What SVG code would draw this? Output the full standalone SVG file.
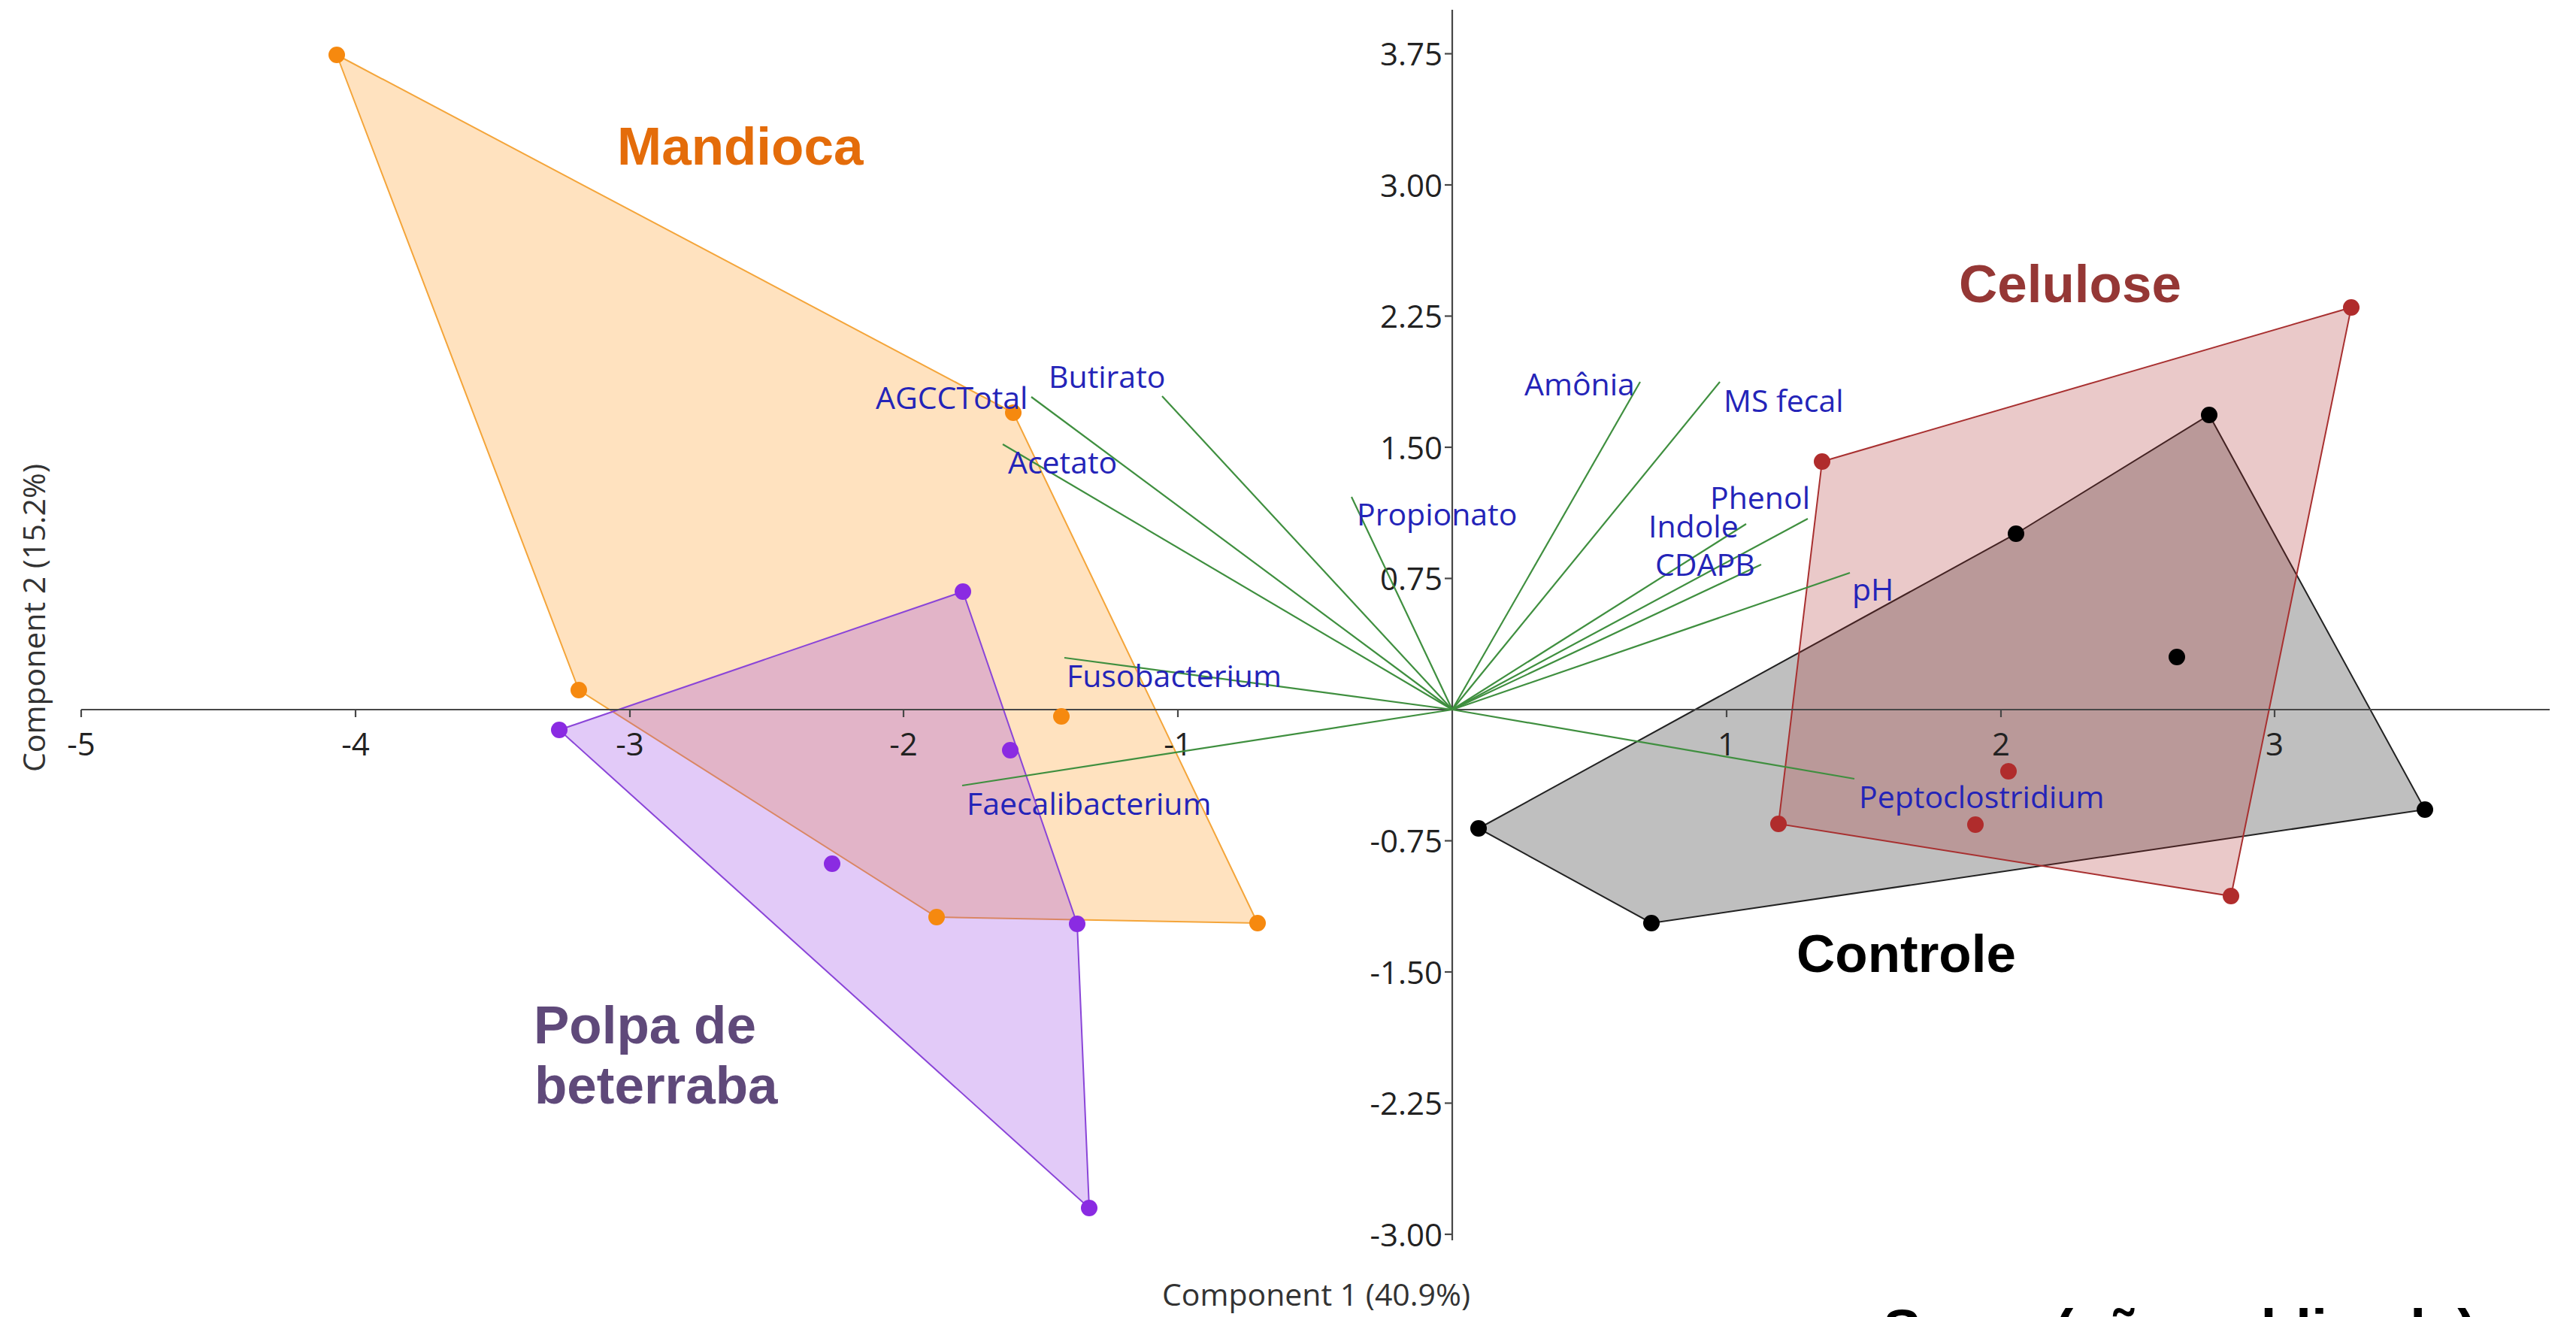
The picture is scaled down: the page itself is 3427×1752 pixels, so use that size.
<svg xmlns="http://www.w3.org/2000/svg" width="3427" height="1752" viewBox="0 0 3427 1752">
<style>
.ax{stroke:#474747;stroke-width:2.2;fill:none}
.tick{font-family:"Open Sans","Noto Sans",sans-serif;font-size:42px;fill:#222}
.title{font-family:"Open Sans","Noto Sans",sans-serif;font-size:41px;fill:#333}
.vec{stroke:#3f8f3f;stroke-width:2.2}
.var{font-family:"Open Sans","Noto Sans",sans-serif;font-size:41px;fill:#2424b8}
.grp{font-family:"Liberation Sans",Arial,sans-serif;font-size:71px;font-weight:bold}
.hull-o{fill:rgba(255,140,0,0.25);stroke:#f4a53a;stroke-width:2}
.hull-p{fill:rgba(138,43,226,0.25);stroke:#8a45d8;stroke-width:2}
.hull-k{fill:rgba(0,0,0,0.25);stroke:#222;stroke-width:2}
.hull-r{fill:rgba(170,40,40,0.25);stroke:#a83030;stroke-width:2}
.po{fill:#f6890f}.pp{fill:#8a2be2}.pk{fill:#000}.pr{fill:#b02c2c}
</style>
<rect width="3427" height="1752" fill="#fff"/>

<g id="hulls">
<polygon id="hull-mandioca" class="hull-o" points="448,73 1348,549 1673,1228 1246,1220 770,918"/>
<polygon id="hull-polpa" class="hull-p" points="744,971 1281,787 1433,1229 1449,1607"/>
<polygon id="hull-controle" class="hull-k" points="1967,1102 2682,710 2939,552 3226,1077 2197,1228"/>
<polygon id="hull-celulose" class="hull-r" points="2424,614 3128,409 2968,1192 2366,1096"/>
</g>

<g id="axes">
<line class="ax" x1="108" y1="944" x2="3392" y2="944"/>
<line class="ax" x1="1932" y1="13" x2="1932" y2="1650"/>
<g class="ax">
<line x1="108" y1="944" x2="108" y2="954"/>
<line x1="473" y1="944" x2="473" y2="954"/>
<line x1="838" y1="944" x2="838" y2="954"/>
<line x1="1202" y1="944" x2="1202" y2="954"/>
<line x1="1567" y1="944" x2="1567" y2="954"/>
<line x1="2297" y1="944" x2="2297" y2="954"/>
<line x1="2662" y1="944" x2="2662" y2="954"/>
<line x1="3026" y1="944" x2="3026" y2="954"/>
<line x1="1922" y1="71.5" x2="1932" y2="71.5"/>
<line x1="1922" y1="246" x2="1932" y2="246"/>
<line x1="1922" y1="420.5" x2="1932" y2="420.5"/>
<line x1="1922" y1="595" x2="1932" y2="595"/>
<line x1="1922" y1="769.5" x2="1932" y2="769.5"/>
<line x1="1922" y1="1118.5" x2="1932" y2="1118.5"/>
<line x1="1922" y1="1293" x2="1932" y2="1293"/>
<line x1="1922" y1="1467.5" x2="1932" y2="1467.5"/>
<line x1="1922" y1="1642" x2="1932" y2="1642"/>
</g>
<g class="tick" text-anchor="middle">
<text x="108" y="1005">-5</text>
<text x="473" y="1005">-4</text>
<text x="838" y="1005">-3</text>
<text x="1202" y="1005">-2</text>
<text x="1567" y="1005">-1</text>
<text x="2297" y="1005">1</text>
<text x="2662" y="1005">2</text>
<text x="3026" y="1005">3</text>
</g>
<g class="tick" text-anchor="end">
<text x="1919" y="87">3.75</text>
<text x="1919" y="262">3.00</text>
<text x="1919" y="436">2.25</text>
<text x="1919" y="611">1.50</text>
<text x="1919" y="785">0.75</text>
<text x="1919" y="1134">-0.75</text>
<text x="1919" y="1309">-1.50</text>
<text x="1919" y="1483">-2.25</text>
<text x="1919" y="1658">-3.00</text>
</g>
<text class="title" x="1751" y="1737" text-anchor="middle">Component 1 (40.9%)</text>
<text class="title" x="60" y="822" text-anchor="middle" transform="rotate(-90 60 822)">Component 2 (15.2%)</text>
</g>

<g id="loadings">
<line class="vec" x1="1932" y1="944" x2="1372" y2="528"/>
<line class="vec" x1="1932" y1="944" x2="1546" y2="527"/>
<line class="vec" x1="1932" y1="944" x2="1334" y2="591"/>
<line class="vec" x1="1932" y1="944" x2="1798" y2="661"/>
<line class="vec" x1="1932" y1="944" x2="1416" y2="875"/>
<line class="vec" x1="1932" y1="944" x2="1280" y2="1045"/>
<line class="vec" x1="1932" y1="944" x2="2182" y2="508"/>
<line class="vec" x1="1932" y1="944" x2="2288" y2="508"/>
<line class="vec" x1="1932" y1="944" x2="2405" y2="690"/>
<line class="vec" x1="1932" y1="944" x2="2323" y2="697"/>
<line class="vec" x1="1932" y1="944" x2="2343" y2="751"/>
<line class="vec" x1="1932" y1="944" x2="2461" y2="762"/>
<line class="vec" x1="1932" y1="944" x2="2467" y2="1036"/>
</g>

<g id="points">
<g id="pts-mandioca" class="po">
<circle cx="448" cy="73" r="11"/><circle cx="1348" cy="549" r="11"/><circle cx="770" cy="918" r="11"/>
<circle cx="1412" cy="953" r="11"/><circle cx="1246" cy="1220" r="11"/><circle cx="1673" cy="1228" r="11"/>
</g>
<g id="pts-polpa" class="pp">
<circle cx="744" cy="971" r="11"/><circle cx="1281" cy="787" r="11"/><circle cx="1344" cy="998" r="11"/>
<circle cx="1107" cy="1149" r="11"/><circle cx="1433" cy="1229" r="11"/><circle cx="1449" cy="1607" r="11"/>
</g>
<g id="pts-controle" class="pk">
<circle cx="2939" cy="552" r="11"/><circle cx="2682" cy="710" r="11"/><circle cx="2896" cy="874" r="11"/>
<circle cx="3226" cy="1077" r="11"/><circle cx="1967" cy="1102" r="11"/><circle cx="2197" cy="1228" r="11"/>
</g>
<g id="pts-celulose" class="pr">
<circle cx="2424" cy="614" r="11"/><circle cx="3128" cy="409" r="11"/><circle cx="2366" cy="1096" r="11"/>
<circle cx="2968" cy="1192" r="11"/><circle cx="2672" cy="1026" r="11"/><circle cx="2628" cy="1097" r="11"/>
</g>
</g>

<g id="variable-labels" class="var">
<text x="1165" y="544">AGCCTotal</text>
<text x="1395" y="516">Butirato</text>
<text x="1341" y="630">Acetato</text>
<text x="1805" y="699">Propionato</text>
<text x="1419" y="914">Fusobacterium</text>
<text x="1286" y="1084">Faecalibacterium</text>
<text x="2028" y="526">Amônia</text>
<text x="2293" y="548">MS fecal</text>
<text x="2275" y="677">Phenol</text>
<text x="2193" y="715">Indole</text>
<text x="2202" y="766">CDAPB</text>
<text x="2464" y="799">pH</text>
<text x="2473" y="1075">Peptoclostridium</text>
</g>

<g id="group-labels" class="grp">
<text id="lbl-mandioca" x="821" y="219" fill="#e46c0a">Mandioca</text>
<text id="lbl-celulose" x="2606" y="402" fill="#953735">Celulose</text>
<text id="lbl-controle" x="2390" y="1293" fill="#000">Controle</text>
<text id="lbl-polpa" x="710" y="1388" fill="#5f497a">Polpa de<tspan x="711" y="1468">beterraba</tspan></text>
</g>

<text id="source" x="2505" y="1795" font-family="'Liberation Sans',Arial,sans-serif" font-size="76" font-weight="bold" fill="#000">Soma (não publicada)</text>
</svg>
